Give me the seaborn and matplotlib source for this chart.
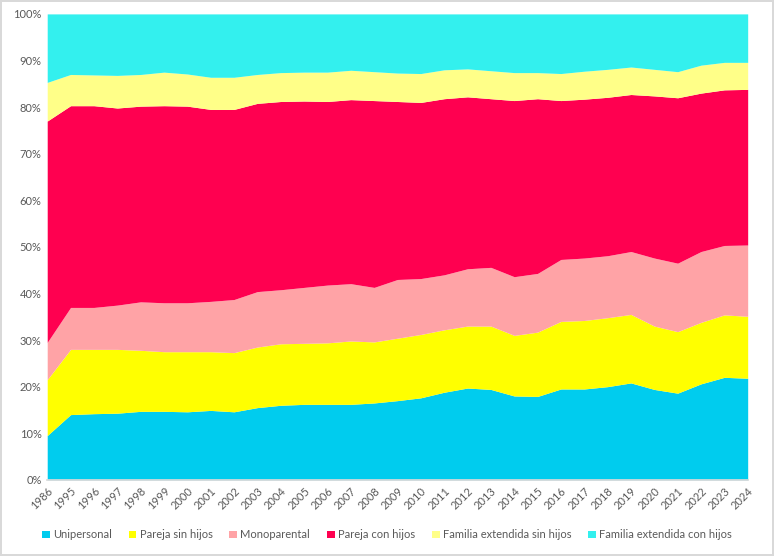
import numpy as np
import pandas as pd
import seaborn as sns
from matplotlib import pyplot as plt
from matplotlib.ticker import PercentFormatter

years = ['1986'] + [str(y) for y in range(1995, 2025)]

unipersonal = [9.5, 14.0, 14.2, 14.3, 14.7, 14.7, 14.6, 14.9, 14.6, 15.5, 16.0, 16.2, 16.2, 16.2,
               16.5, 17.0, 17.6, 18.8, 19.7, 19.4, 18.0, 17.9, 19.5, 19.5, 20.0, 20.8, 19.4, 18.6,
               20.6, 22.0, 21.8]
pareja_sin_hijos = [12.0, 14.0, 13.8, 13.7, 13.1, 12.8, 12.9, 12.6, 12.7, 13.0, 13.2, 13.1, 13.2,
                    13.6, 13.1, 13.4, 13.6, 13.4, 13.3, 13.6, 13.0, 13.8, 14.5, 14.7, 14.8, 14.7,
                    13.6, 13.2, 13.2, 13.4, 13.3]
monoparental = [8.0, 9.0, 9.0, 9.5, 10.4, 10.5, 10.5, 10.8, 11.4, 11.9, 11.6, 12.0, 12.4, 12.3,
                11.7, 12.6, 12.0, 11.8, 12.3, 12.6, 12.6, 12.6, 13.3, 13.4, 13.3, 13.5, 14.6, 14.7,
                15.2, 14.9, 15.3]
pareja_con_hijos = [47.5, 43.3, 43.3, 42.3, 42.0, 42.3, 42.2, 41.2, 40.8, 40.4, 40.4, 40.0, 39.4,
                    39.5, 40.1, 38.2, 37.8, 37.8, 36.9, 36.2, 37.8, 37.5, 34.1, 34.1, 34.0, 33.7,
                    34.8, 35.5, 34.0, 33.4, 33.4]
ext_sin_hijos = [8.3, 6.7, 6.6, 7.0, 6.8, 7.2, 6.9, 6.9, 6.9, 6.2, 6.2, 6.2, 6.3, 6.3, 6.2, 6.1,
                 6.2, 6.2, 6.0, 6.0, 6.0, 5.6, 5.8, 6.0, 6.0, 5.9, 5.7, 5.6, 6.0, 5.9, 5.8]
ext_con_hijos = [14.7, 13.0, 13.1, 13.2, 13.0, 12.5, 12.9, 13.6, 13.6, 13.0, 12.6, 12.5, 12.5,
                 12.1, 12.4, 12.7, 12.8, 12.0, 11.8, 12.2, 12.6, 12.6, 12.8, 12.3, 11.9, 11.4,
                 11.9, 12.4, 11.0, 10.4, 10.4]

labels = ['Unipersonal', 'Pareja sin hijos', 'Monoparental', 'Pareja con hijos',
          'Familia extendida sin hijos', 'Familia extendida con hijos']
colors = ['#00CCEE', '#FFFF00', '#FFA3A6', '#FF0050', '#FFFF88', '#33F0EE']

df = pd.DataFrame(
    [unipersonal, pareja_sin_hijos, monoparental, pareja_con_hijos, ext_sin_hijos, ext_con_hijos],
    index=labels, columns=years,
).T
df = df.div(df.sum(axis=1), axis=0)

sns.set_theme(style='white')
plt.rcParams['font.family'] = ['Lato', 'DejaVu Sans']

fig = plt.figure(figsize=(7.74, 5.56), dpi=100)
fig.patch.set_edgecolor('#d9d9d9')
fig.patch.set_linewidth(1.5)
ax = fig.add_axes([0.061, 0.137, 0.905, 0.838])

x = np.arange(len(years))
ax.stackplot(x, df.T.values, labels=labels, colors=colors, linewidth=0)

ax.set_xlim(0, len(years) - 1)
ax.set_ylim(0, 1)
ax.set_yticks(np.arange(0, 1.01, 0.1))
ax.yaxis.set_major_formatter(PercentFormatter(1.0, decimals=0))
ax.set_xticks(x)
ax.set_xticklabels(years, rotation=45, ha='right', rotation_mode='anchor')
ax.tick_params(axis='both', labelsize=8, colors='#595959', length=0, pad=4)
sns.despine(ax=ax, left=True, top=True, right=True)
ax.spines['bottom'].set_color('#d9d9d9')

handles, lbls = ax.get_legend_handles_labels()
fig.legend(handles, lbls, loc='center', bbox_to_anchor=(0.5, 0.038), ncol=6, frameon=False,
           fontsize=8, handlelength=0.7, handleheight=0.7, handletextpad=0.3, columnspacing=1.5,
           labelcolor='#595959')

fig.savefig('out.png', dpi=100)
